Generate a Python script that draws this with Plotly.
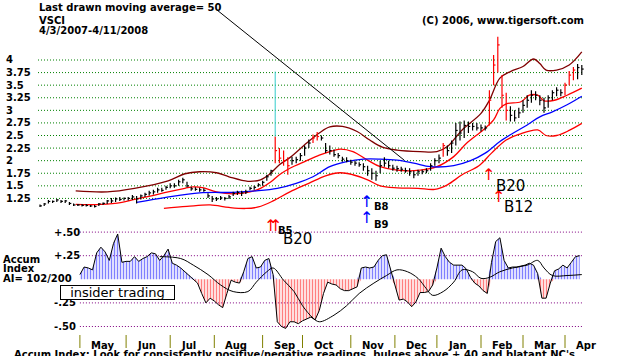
import plotly.graph_objects as go

# ---------------- data ----------------
# trading-day index, day 0 = 4/3/2007; one bar every second trading day
bar_days = list(range(0, 259, 2))
high = [1.13, 1.16, 1.22, 1.21, 1.24, 1.22, 1.22, 1.18, 1.15, 1.14,
        1.14, 1.14, 1.12, 1.12, 1.16, 1.17, 1.22, 1.26, 1.27, 1.28,
        1.27, 1.28, 1.32, 1.30, 1.33, 1.36, 1.40, 1.42, 1.46, 1.46,
        1.50, 1.55, 1.55, 1.62, 1.66, 1.58, 1.48, 1.47, 1.46, 1.45,
        1.35, 1.30, 1.28, 1.30, 1.28, 1.32, 1.38, 1.40, 1.40, 1.42,
        1.48, 1.50, 1.55, 1.60, 1.72, 1.82, 2.48, 2.25, 2.20, 2.07,
        2.08, 2.08, 2.15, 2.30, 2.42, 2.52, 2.57, 2.50, 2.35, 2.30,
        2.22, 2.15, 2.08, 2.07, 2.02, 2.00, 1.97, 1.95, 1.90, 1.85,
        1.80, 2.00, 2.07, 2.00, 1.92, 1.90, 1.88, 1.86, 1.85, 1.80,
        1.82, 1.82, 1.85, 1.95, 2.05, 2.12, 2.35, 2.30, 2.40, 2.75,
        2.78, 2.80, 2.78, 2.75, 2.75, 2.72, 2.70, 3.40, 4.10, 4.46,
        3.70, 3.35, 3.08, 3.00, 3.05, 3.20, 3.30, 3.40, 3.38, 3.30,
        3.25, 3.30, 3.40, 3.46, 3.42, 3.55, 3.78, 3.86, 3.92, 3.90]
low = [1.08, 1.10, 1.15, 1.16, 1.18, 1.16, 1.16, 1.12, 1.10, 1.10,
       1.09, 1.09, 1.08, 1.07, 1.10, 1.12, 1.14, 1.16, 1.18, 1.20,
       1.21, 1.21, 1.22, 1.15, 1.23, 1.28, 1.31, 1.33, 1.36, 1.38,
       1.42, 1.45, 1.46, 1.50, 1.55, 1.47, 1.40, 1.40, 1.38, 1.38,
       1.26, 1.18, 1.20, 1.22, 1.21, 1.24, 1.30, 1.32, 1.30, 1.34,
       1.41, 1.42, 1.48, 1.50, 1.60, 1.70, 1.95, 1.95, 1.90, 1.72,
       1.92, 1.95, 2.00, 2.10, 2.25, 2.35, 2.40, 2.40, 2.15, 2.12,
       2.08, 2.05, 1.98, 1.97, 1.92, 1.90, 1.88, 1.80, 1.70, 1.62,
       1.60, 1.75, 1.88, 1.85, 1.80, 1.78, 1.78, 1.76, 1.70, 1.65,
       1.70, 1.73, 1.75, 1.80, 1.90, 1.95, 2.08, 2.10, 2.15, 2.30,
       2.40, 2.45, 2.55, 2.60, 2.60, 2.58, 2.60, 2.70, 3.50, 3.75,
       3.05, 2.80, 2.78, 2.78, 2.85, 2.95, 3.05, 3.15, 3.20, 3.10,
       2.95, 3.05, 3.20, 3.28, 3.28, 3.30, 3.50, 3.60, 3.62, 3.70]
close = [1.10, 1.14, 1.19, 1.19, 1.22, 1.19, 1.20, 1.15, 1.12, 1.12,
         1.11, 1.11, 1.10, 1.09, 1.14, 1.15, 1.20, 1.20, 1.24, 1.23,
         1.25, 1.25, 1.28, 1.24, 1.30, 1.33, 1.36, 1.38, 1.42, 1.41,
         1.47, 1.50, 1.50, 1.58, 1.62, 1.50, 1.44, 1.43, 1.42, 1.41,
         1.30, 1.24, 1.24, 1.26, 1.25, 1.28, 1.35, 1.37, 1.36, 1.38,
         1.45, 1.47, 1.52, 1.57, 1.68, 1.80, 2.20, 2.05, 2.00, 1.90,
         2.00, 2.02, 2.10, 2.25, 2.35, 2.45, 2.48, 2.45, 2.20, 2.20,
         2.12, 2.10, 2.03, 2.00, 1.97, 1.95, 1.92, 1.88, 1.80, 1.75,
         1.70, 1.90, 1.95, 1.90, 1.85, 1.84, 1.83, 1.80, 1.78, 1.72,
         1.78, 1.78, 1.80, 1.90, 2.00, 2.05, 2.30, 2.20, 2.35, 2.60,
         2.55, 2.70, 2.68, 2.68, 2.65, 2.65, 2.65, 3.20, 3.90, 4.30,
         3.30, 3.00, 2.90, 2.85, 2.95, 3.10, 3.20, 3.30, 3.30, 3.20,
         3.05, 3.25, 3.35, 3.40, 3.35, 3.50, 3.70, 3.80, 3.85, 3.82]
red_bar_days = [112, 114, 116, 118, 130, 132, 192, 214, 216, 218, 220, 222, 250, 252, 254]
spike_days = [112]
spike_high = [3.77]

upper_band_days = [17, 32, 45, 61, 69, 76, 84, 90, 99, 105, 109, 114, 119, 127, 133, 138, 144,
                   151, 157, 163, 170, 181, 189, 194, 201, 210, 214, 219, 224, 230, 235, 238,
                   241, 246, 252, 258]
upper_band = [1.40, 1.38, 1.45, 1.60, 1.74, 1.78, 1.76, 1.68, 1.59, 1.62, 1.72, 1.92, 2.06, 2.35,
              2.55, 2.67, 2.68, 2.58, 2.41, 2.27, 2.21, 2.18, 2.18, 2.28, 2.61, 2.94, 3.20, 3.64,
              3.77, 3.87, 4.02, 3.93, 3.80, 3.80, 3.90, 4.16]
ma21_days = [17, 29, 39, 45, 53, 61, 69, 73, 78, 84, 92, 100, 105, 110, 114, 119, 127, 133, 138,
             143, 149, 156, 162, 170, 181, 189, 197, 203, 211, 216, 219, 222, 229, 233, 237, 240,
             245, 251, 258]
ma21 = [1.13, 1.13, 1.17, 1.23, 1.30, 1.38, 1.45, 1.48, 1.46, 1.38, 1.34, 1.38, 1.45, 1.58, 1.72,
        1.85, 2.00, 2.11, 2.18, 2.23, 2.18, 2.01, 1.88, 1.81, 1.81, 1.88, 2.08, 2.34, 2.61, 2.81,
        3.04, 3.13, 3.17, 3.30, 3.30, 3.19, 3.20, 3.30, 3.44]
ma50_days = [46, 60, 76, 92, 103, 113, 122, 130, 138, 146, 154, 162, 170, 178, 186, 197, 205,
             212, 219, 225, 232, 238, 244, 251, 258]
ma50 = [1.17, 1.27, 1.36, 1.37, 1.40, 1.45, 1.55, 1.68, 1.88, 1.98, 2.03, 2.03, 2.01, 1.95, 1.88,
        1.90, 2.00, 2.15, 2.38, 2.54, 2.71, 2.87, 2.97, 3.11, 3.28]
lower_band_days = [59, 70, 81, 90, 98, 104, 111, 119, 128, 136, 143, 149, 156, 162, 170, 180,
                   188, 194, 201, 209, 215, 222, 228, 237, 241, 246, 252, 258]
lower_band = [1.05, 1.09, 1.12, 1.07, 1.05, 1.08, 1.20, 1.38, 1.55, 1.70, 1.76, 1.72, 1.62, 1.50,
              1.46, 1.45, 1.43, 1.52, 1.72, 1.90, 2.15, 2.41, 2.52, 2.61, 2.50, 2.50, 2.60, 2.74]

acc_days = list(range(19, 258, 2))
acc = [0.05, 0.13, 0.12, 0.10, 0.28, 0.34, 0.29, 0.20, 0.38, 0.48,
       0.18, 0.19, 0.19, 0.24, 0.19, 0.22, 0.24, 0.28, 0.27, 0.20,
       0.25, 0.32, 0.17, 0.15, 0.12, 0.08, 0.05, 0.01, -0.04, -0.15,
       -0.25, -0.20, -0.23, -0.27, -0.30, -0.15, -0.01, -0.03, -0.04, 0.08,
       0.22, 0.24, 0.12, 0.13, 0.20, 0.22, 0.05, -0.45, -0.50, -0.52,
       -0.45, -0.45, -0.47, -0.44, -0.42, -0.40, -0.43, -0.33, -0.15, -0.03,
       -0.05, -0.06, -0.10, -0.12, -0.12, -0.10, -0.08, 0.12, 0.13, 0.12,
       0.13, 0.20, 0.25, 0.26, 0.10, -0.06, -0.22, -0.21, -0.24, -0.29,
       -0.24, -0.14, -0.14, -0.13, -0.06, 0.12, 0.33, 0.24, 0.18, 0.15,
       0.15, 0.15, 0.11, 0.02, -0.04, -0.07, -0.12, -0.15, 0.18, 0.40,
       0.44, 0.20, 0.12, 0.13, 0.13, 0.14, 0.15, 0.17, 0.15, 0.06,
       -0.20, -0.20, -0.04, 0.09, 0.11, 0.15, 0.12, 0.18, 0.24, 0.25]
acc_ma_days = [57, 67, 73, 80, 86, 92, 99, 103, 108, 111, 116, 121, 125, 130, 133, 140, 146, 152,
               159, 165, 170, 175, 180, 184, 187, 192, 197, 201, 206, 210, 214, 219, 225, 232,
               237, 240, 244, 251, 258]
acc_ma = [0.24, 0.22, 0.15, 0.05, -0.06, -0.13, -0.13, -0.03, 0.08, 0.12, -0.01, -0.13, -0.28,
          -0.41, -0.45, -0.38, -0.28, -0.15, -0.04, 0.04, 0.10, 0.08, 0.01, -0.10, -0.17, -0.13,
          -0.03, 0.10, 0.08, 0.01, 0.02, 0.08, 0.12, 0.15, 0.20, 0.12, 0.04, 0.04, 0.05]

month_labels = ["May", "Jun", "Jul", "Aug", "Sep", "Oct", "Nov", "Dec", "Jan", "Feb", "Mar", "Apr"]
month_starts = [19, 41, 62, 83, 106, 125, 148, 169, 189, 210, 230, 250]
price_ticks = [4, 3.75, 3.5, 3.25, 3, 2.75, 2.5, 2.25, 2, 1.75, 1.5, 1.25]
price_tick_labels = ["4", "3.75", "3.5", "3.25", "3", "2.75", "2.5", "2.25", "2", "1.75", "1.5", "1.25"]
acc_ticks = [0.5, 0.25, -0.25, -0.5]
acc_tick_labels = ["+.50", "+.25", "-.25", "-.50"]

# ---------------- layout helpers (pixels -> paper) ----------------
W, H = 633, 356
PLOT_L, PLOT_R = 38, 585
X0_PX, PX_PER_DAY = 40, 2.1
xr = [(PLOT_L - X0_PX) / PX_PER_DAY, (PLOT_R - X0_PX) / PX_PER_DAY]
P_TOP, P_BOT = 30, 216
P_Y4, P_UNIT = 60, 50.33
price_range = [4 - (P_BOT - P_Y4) / P_UNIT, 4 - (P_TOP - P_Y4) / P_UNIT]
A_TOP, A_BOT = 226, 334
A_Y0, A_UNIT = 279.3, 94.4
acc_range = [(A_Y0 - A_BOT) / A_UNIT, (A_Y0 - A_TOP) / A_UNIT]


def px_x(p):
    return p / W


def px_y(p):
    return 1 - p / H


def day_of_px(p):
    return (p - X0_PX) / PX_PER_DAY


FONT = "DejaVu Sans"
BOLD10 = dict(family=FONT, size=10, color="black", weight="bold")

fig = go.Figure()

# bands
for dd, vv, col in [(upper_band_days, upper_band, "#800000"),
                    (ma21_days, ma21, "#ff0000"),
                    (ma50_days, ma50, "#0000ff"),
                    (lower_band_days, lower_band, "#ff0000")]:
    fig.add_trace(go.Scatter(x=dd, y=vv, mode="lines", line=dict(color=col, width=1.3, shape="spline"),
                             hoverinfo="skip"))


def bar_xy(is_red):
    xs, ys, tx, ty = [], [], [], []
    for d, h, l, c in zip(bar_days, high, low, close):
        if (d in red_bar_days) == is_red:
            xs += [d, d, None]
            ys += [l, h, None]
            tx += [d, d + 0.9, None]
            ty += [c, c, None]
    return xs, ys, tx, ty


for is_red, col in [(False, "black"), (True, "#ff0000")]:
    xs, ys, tx, ty = bar_xy(is_red)
    fig.add_trace(go.Scatter(x=xs, y=ys, mode="lines", line=dict(color=col, width=1.2), hoverinfo="skip"))
    fig.add_trace(go.Scatter(x=tx, y=ty, mode="lines", line=dict(color=col, width=1.2), hoverinfo="skip"))

# spike above the September bar
sx, sy = [], []
for d, top in zip(spike_days, spike_high):
    sx += [d, d, None]
    sy += [high[bar_days.index(d)], top, None]
fig.add_trace(go.Scatter(x=sx, y=sy, mode="lines", line=dict(color="#33cccc", width=1), hoverinfo="skip"))

# accumulation index
acc_pos = [max(v, 0) for v in acc]
acc_neg = [min(v, 0) for v in acc]
for vals, col in [(acc_pos, "#0000ff"), (acc_neg, "#ff0000")]:
    fig.add_trace(go.Scatter(x=acc_days, y=vals, yaxis="y2", mode="lines", fill="tozeroy",
                             line=dict(width=0, color="rgba(0,0,0,0)"),
                             fillpattern=dict(shape="|", fgcolor=col, bgcolor="rgba(255,255,255,0)",
                                              size=3, solidity=0.5),
                             hoverinfo="skip"))
fig.add_trace(go.Scatter(x=acc_days, y=acc, yaxis="y2", mode="lines",
                         line=dict(color="black", width=1), hoverinfo="skip"))
fig.add_trace(go.Scatter(x=acc_ma_days, y=acc_ma, yaxis="y2", mode="lines",
                         line=dict(color="black", width=1, shape="spline"), hoverinfo="skip"))

shapes = []
for v in price_ticks:
    shapes.append(dict(type="line", xref="x", yref="y", x0=xr[0], x1=xr[1] - 1, y0=v, y1=v,
                       line=dict(color="#008000", width=1, dash="1px,2px"), layer="below"))
for v in acc_ticks:
    shapes.append(dict(type="line", xref="x", yref="y2", x0=acc_days[0], x1=xr[1] - 1, y0=v, y1=v,
                       line=dict(color="#800080", width=1, dash="1px,2px"), layer="below"))
for d in month_starts:
    shapes.append(dict(type="line", xref="x", yref="paper", x0=d, x1=d, y0=px_y(348), y1=px_y(335),
                       line=dict(color="#808000", width=1)))
# pointer from the title to the last drawn moving average
shapes.append(dict(type="line", xref="paper", yref="paper", x0=px_x(217), y0=px_y(10),
                   x1=px_x(404), y1=px_y(160), line=dict(color="black", width=1)))

ann = []


def text(t, x, y, xref="paper", yref="paper", font=BOLD10, xanchor="left", yanchor="middle"):
    ann.append(dict(text=t, x=x, y=y, xref=xref, yref=yref, showarrow=False, font=font,
                    xanchor=xanchor, yanchor=yanchor, borderpad=0))


text("Last drawn moving average= 50", px_x(38), px_y(7.5))
text("VSCI", px_x(38), px_y(20.5))
text("4/3/2007-4/11/2008", px_x(38), px_y(30.5))
text("(C) 2006, www.tigersoft.com", px_x(421), px_y(21))
for v, lab in zip(price_ticks, price_tick_labels):
    text(lab, px_x(5), v, yref="y")
for v, lab in zip(acc_ticks, acc_tick_labels):
    text(lab, px_x(53), v, yref="y2")
for d, lab in zip(month_starts, month_labels):
    text(lab, d + 4.8, px_y(345), xref="x")
text("Accum", px_x(2), px_y(259))
text("Index", px_x(2), px_y(268.5))
text("AI= 102/200", px_x(2), px_y(278.5))
text("Accum Index: Look for consistently positive/negative readings, bulges above +.40 and blatant NC's",
     px_x(13), px_y(348), yanchor="top")
ann.append(dict(text="insider trading", x=px_x(117.5), y=px_y(292.5), xref="paper", yref="paper",
                showarrow=False, font=dict(family=FONT, size=13, color="black"),
                bgcolor="white", bordercolor="black", borderwidth=1, borderpad=0,
                width=113, height=13, xanchor="center", yanchor="middle"))

# buy signals
ARROW_RED = dict(family=FONT, size=16, color="#ff0000")
ARROW_BLUE = dict(family=FONT, size=16, color="#0000ff")
BIG = dict(family=FONT, size=15, color="black")
for p, yy, f in [(270, 225, ARROW_RED), (275, 225, ARROW_RED), (366, 201, ARROW_BLUE),
                 (366, 217.5, ARROW_BLUE), (488, 174.5, ARROW_RED), (498, 196, ARROW_RED)]:
    text("\u2191", day_of_px(p), px_y(yy), xref="x", font=f, xanchor="center")
text("B5", day_of_px(277), px_y(230), xref="x")
text("B20", day_of_px(282), px_y(239), xref="x", font=BIG)
text("B8", day_of_px(373), px_y(206), xref="x")
text("B9", day_of_px(373), px_y(224), xref="x")
text("B20", day_of_px(495), px_y(185.5), xref="x", font=BIG)
text("B12", day_of_px(503), px_y(207), xref="x", font=BIG)

fig.update_layout(
    width=W, height=H, autosize=False, margin=dict(l=0, r=0, t=0, b=0, pad=0),
    paper_bgcolor="white", plot_bgcolor="white", showlegend=False,
    xaxis=dict(domain=[px_x(PLOT_L), px_x(PLOT_R)], range=xr, visible=False, anchor="y"),
    yaxis=dict(domain=[px_y(P_BOT), px_y(P_TOP)], range=price_range, visible=False, anchor="x"),
    yaxis2=dict(domain=[px_y(A_BOT), px_y(A_TOP)], range=acc_range, visible=False, anchor="x"),
    shapes=shapes, annotations=ann,
)

fig.write_html("out.html", config={"displayModeBar": False},
               post_script="document.body.style.margin='0px';")
